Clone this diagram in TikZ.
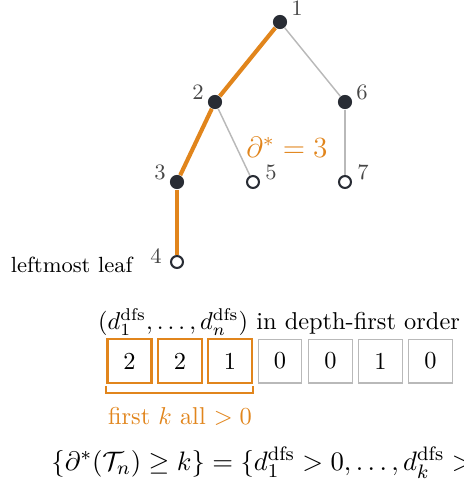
\documentclass[tikz,border=0pt]{standalone}
\usepackage{amsmath,amssymb}
\usetikzlibrary{calc}
\definecolor{orng}{RGB}{225,133,28}
\definecolor{nodedark}{RGB}{40,44,52}
\definecolor{edgegray}{RGB}{185,185,185}
\definecolor{lblgray}{RGB}{70,70,70}
\begin{document}
\begin{tikzpicture}[x=0.41pt,y=-0.41pt,
  inner/.style={circle,fill=nodedark,minimum size=5.8pt,inner sep=0pt},
  leaf/.style={circle,draw=nodedark,fill=white,line width=0.85pt,minimum size=4.9pt,inner sep=0pt},
  hpath/.style={orng,line width=1.7pt},
  side/.style={edgegray,line width=0.6pt},
  lbl/.style={text=lblgray,inner sep=0pt,font=\small},
  cell/.style={draw=edgegray,line width=0.45pt,minimum width=18pt,minimum height=18pt,inner sep=0pt},
  hcell/.style={cell,draw=orng,line width=1.1pt}]
\useasboundingbox (0,0) rectangle (464,486);
% tree nodes
\node[inner] (n1) at (280,22) {};
\node[inner] (n2) at (215,102) {};
\node[inner] (n6) at (345,102) {};
\node[inner] (n3) at (177,182) {};
\node[leaf] (n5) at (253,182) {};
\node[leaf] (n7) at (345,182) {};
\node[leaf] (n4) at (177,262) {};
% edges
\draw[hpath] (n1) -- (n2);
\draw[hpath] (n2) -- (n3);
\draw[hpath] (n3) -- (n4);
\draw[side] (n1) -- (n6);
\draw[side] (n2) -- (n5);
\draw[side] (n6) -- (n7);
% labels
\node[lbl] (l1) at (297,8) {1};
\node[lbl] (l2) at (198,92) {2};
\node[lbl] (l6) at (362,92) {6};
\node[lbl] (l3) at (160,172) {3};
\node[lbl] (l5) at (271,172) {5};
\node[lbl] (l7) at (363,172) {7};
\node[lbl] (l4) at (156,256) {4};
\node[text=orng,font=\large,inner sep=0pt] (dlab) at (287,147) {$\partial^* = 3$};
\node[anchor=east,inner sep=0pt,font=\small] (lml) at (133,265) {leftmost leaf};
% sequence
\node[inner sep=0pt] (hdr) at (279,322) {$(d_1^{\mathrm{dfs}},\dots,d_n^{\mathrm{dfs}})$ in depth-first order};
\node[hcell] (c1) at (129.5,361) {2};
\node[hcell] (c2) at (180,361) {2};
\node[hcell] (c3) at (230,361) {1};
\node[cell] (c4) at (280,361) {0};
\node[cell] (c5) at (330.5,361) {0};
\node[cell] (c6) at (380.5,361) {1};
\node[cell] (c7) at (430.5,361) {0};
\coordinate (bl) at ($(c1.south west)+(0,2)$);
\coordinate (br) at ($(c3.south east)+(0,2)$);
\draw[orng,line width=0.8pt] (bl) -- ++(0,7) -| (br);
\node[text=orng,inner sep=0pt] (fk) at (180,416) {first $k$ all $>0$};
\node[anchor=west,inner sep=0pt,font=\fontsize{11}{13}\selectfont] (form) at (51,463) {$\{\partial^*(\mathcal{T}_n)\ge k\} = \{d_1^{\mathrm{dfs}}>0,\dots,d_k^{\mathrm{dfs}}>0\}$};
\end{tikzpicture}
\end{document}
